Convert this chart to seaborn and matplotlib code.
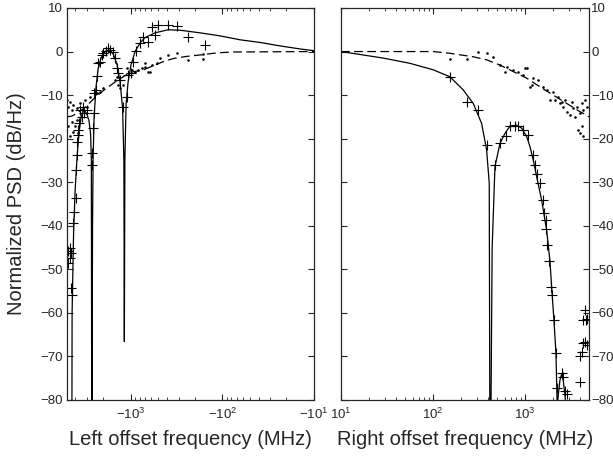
import numpy as np
import pandas as pd
import matplotlib
matplotlib.use('Agg')
import matplotlib.pyplot as plt
from matplotlib.ticker import FuncFormatter, NullFormatter, LogLocator
import seaborn as sns

# left side: offset frequency magnitude (MHz), plotted as negative offsets
left_solid_f = [4390, 4355, 4198, 4039, 3838, 3655, 3475, 3304, 3141, 2985, 2843, 2735, 2685, 2655,
                2606, 2570, 2506, 2384, 2266, 2104, 1901, 1722, 1556, 1406, 1306, 1225, 1186, 1172,
                1157, 1122, 1067, 990, 895, 789, 697, 542, 391, 289, 175, 106, 64, 39, 23.5, 14.2, 10]
left_solid_db = [-100, -60, -42, -32, -24, -18.5, -15, -13.6, -13.7, -14.5, -16, -19, -25, -100,
                 -40, -25, -15, -8, -4, -1.5, 0, 0.4, -0.5, -3, -7, -13, -25, -66.6,
                 -25, -12, -7, -3, 0, 2, 3.2, 4.3, 5, 4.9, 4.3, 3.6, 2.7, 2.1, 1.3, 0.6, 0.2]
left_dash_f = [4943, 4355, 3750, 3141, 2570, 2000, 1479, 1016, 727, 542, 440, 342, 244, 161, 115, 76, 10]
left_dash_db = [-15, -14.8, -14, -12.8, -11, -9, -7, -4.8, -4.2, -3.1, -2.3, -1.6, -1.1, -0.7, -0.3, -0.1, 0]
left_plus_f = [589, 499, 394, 314, 235, 155, 727, 641, 542, 789, 879, 935, 990, 1059, 1202, 1104,
               1361, 1306, 1419, 1479, 1545, 1679, 1750, 1854, 1986, 2065, 2158, 2249, 2307, 2404,
               2506, 2490, 2560, 2636, 2636, 3013, 3199, 3412, 3565, 3327, 3622, 3776, 3718, 3872,
               3811, 3908, 3939, 4140, 4217, 4779, 4467, 4581, 4581, 4779, 4390, 4467]
left_plus_db = [5.6, 6.1, 6.0, 5.8, 3.4, 1.5, 3.3, 2.3, 3.8, 1.9, 0.2, -2.3, -4.9, -5.4, -12.8, -10.4,
                -5, -6.5, -3.8, -1.5, 0, 0.4, 0.75, 0.2, -0.4, -0.8, -2.3, -2.7, -5.6, -8.8,
                -9.6, -14.2, -17.5, -23.4, -26, -13.4, -14.2, -15, -13.4, -12.7, -16.5, -18, -19.2, -20.7,
                -23.7, -27.2, -33.7, -36.8, -39.3, -45.9, -46.3, -45.2, -47.5, -48.6, -55.9, -54.3]
left_dot_f = [4943, 4581, 4779, 4217, 4390, 3872, 3565, 3141, 3013, 2773, 4581, 4217, 4039, 4390,
              3718, 3872, 4779, 2344, 2158, 1986, 1479, 1419, 1361, 1306, 1202, 1104, 973, 895,
              824, 757, 697, 641, 589, 519, 478, 388, 314, 235, 161, 161, 697, 614]
left_dot_db = [-11.1, -11.5, -12.7, -12.3, -13.4, -13, -11.9, -11.1, -12.7, -10.4, -19.5, -18.4, -17.2, -16.1,
               -18.8, -15.7, -17, -9.6, -9.2, -8.4, -6.5, -5.8, -7.7, -8.4, -7.7, -3.8, -4.2, -4.6,
               -4.2, -3.8, -3.5, -4.6, -3.1, -2.7, -1.5, -0.8, -0.25, -1.9, -1.8, -0.6, -2.7, -4.6]

# right side: positive offset frequency (MHz)
right_solid_f = [10, 28.8, 56.2, 101, 153, 213, 274, 338, 383, 409, 417, 421, 440, 472, 535, 606, 687,
                 812, 921, 1043, 1133, 1231, 1340, 1518, 1649, 1722, 1791, 1871, 1950, 2065, 2173,
                 2213, 2240, 2300, 2400, 2506, 2607, 2723, 2838]
right_solid_db = [0, -1.5, -2.7, -4.2, -5.8, -8.8, -11.9, -16.5, -22.6, -30.2, -100, -100, -45, -26.4, -21.1,
                  -18.8, -17.1, -16.9, -17.6, -19.5, -21.8, -24.9, -28.7, -34.1, -38.7, -41, -44.4, -48.2,
                  -54, -61.6, -69.3, -76.2, -82, -79, -75.5, -74, -75.5, -79, -83]
right_dash_f = [10, 101, 153, 274, 383, 535, 746, 1043, 1456, 2031, 2838, 3963, 4688, 4966]
right_dash_db = [0, 0, -0.4, -1.2, -1.9, -3.1, -4.6, -6.1, -8.1, -10, -11.9, -13.8, -14.6, -15]
right_plus_f = [153, 232, 311, 383, 472, 535, 617, 687, 778, 846, 959, 1086, 1231, 1284, 1360, 1456,
                1556, 1610, 1691, 1691, 1746, 1837, 1903, 1982, 2065, 2158, 2244, 2506, 2607, 2723,
                2838, 3963, 3963, 4132, 4236, 4487, 4688, 4487, 4603, 4753, 4305]
right_plus_db = [-5.8, -11.5, -13.4, -21.5, -26, -21.1, -19.4, -17.1, -17.1, -17.1, -18, -19.2, -23.7, -26,
                 -28, -30.2, -34.1, -37.1, -38.7, -40.7, -44.4, -48.2, -54, -55.9, -61.6, -69.1, -77.3,
                 -73.9, -74.8, -77.9, -78.6, -75.8, -70, -68.9, -66.8, -66.6, -67.4, -59.3, -61.6, -61.5, -61.6]
right_dot_f = [153, 232, 311, 383, 452, 535, 606, 746, 846, 959, 1043, 1133, 1231, 1395, 1581, 1722,
               2031, 2118, 2301, 2399, 2607, 2723, 2838, 3083, 3350, 3493, 3646, 3963, 4132, 4305,
               4487, 4688, 3795, 3963, 4305, 4132, 632, 1000, 1182, 1871, 2506, 3219]
right_dot_db = [-1.8, -1.8, 0, -0.4, -1.2, -3.1, -4.6, -4.2, -4.6, -5.4, -3.8, -8.1, -6.1, -6.5, -8.1, -8.8,
                -9.2, -11.1, -10.4, -11.9, -12.7, -11.1, -13.8, -14.6, -13, -15, -12.7, -14.2, -11.9, -13.4,
                -11.1, -12.7, -18, -18.8, -19.5, -17.2, -3.5, -3.8, -7.7, -11.1, -11.5, -11.5]

yticks = list(range(-80, 11, 10))

sns.set_style('ticks', {'xtick.direction': 'in', 'ytick.direction': 'in'})
plt.rcParams['font.family'] = ['Liberation Sans', 'DejaVu Sans']
plt.rcParams['mathtext.default'] = 'regular'
plt.rcParams['axes.linewidth'] = 0.9

fig = plt.figure(figsize=(6.13, 4.59), dpi=100)
axl = fig.add_axes([67 / 613, 59 / 459, 247 / 613, 392 / 459])
axr = fig.add_axes([341 / 613, 59 / 459, 248 / 613, 392 / 459])


def draw(ax, sf, sd, df, dd, pf, pd_, of, od):
    ax.set_xscale('log')
    sns.lineplot(x=sf, y=sd, ax=ax, color='k', lw=0.9, estimator=None, sort=False)
    sns.lineplot(x=df, y=dd, ax=ax, color='k', lw=0.9, ls=(0, (7, 3.5)), estimator=None, sort=False)
    sns.scatterplot(x=pf, y=pd_, ax=ax, marker='+', color='k', s=42, linewidth=0.8)
    sns.scatterplot(x=of, y=od, ax=ax, marker='o', color='k', s=3.5, linewidth=0)
    ax.set_ylim(-80, 10)
    ax.set_yticks(yticks)
    ax.xaxis.set_major_locator(LogLocator(base=10))
    ax.xaxis.set_minor_locator(LogLocator(base=10, subs=np.arange(2, 10)))
    ax.xaxis.set_minor_formatter(NullFormatter())
    ax.tick_params(which='both', top=True, right=True, labelsize=9.5)
    ax.tick_params(which='major', length=4, width=0.8)
    ax.tick_params(which='minor', length=2, width=0.6)
    ax.tick_params(axis='x', pad=5)


draw(axl, left_solid_f, left_solid_db, left_dash_f, left_dash_db,
     left_plus_f, left_plus_db, left_dot_f, left_dot_db)
axl.set_xlim(4950, 10)
axl.xaxis.set_major_formatter(FuncFormatter(lambda v, p: r'$-10^{%d}$' % round(np.log10(v))))
axl.tick_params(axis='y', pad=3)
axl.set_xlabel('Left offset frequency (MHz)', fontsize=14.5, labelpad=6)
axl.set_ylabel('Normalized PSD (dB/Hz)', fontsize=14.5, labelpad=10)

draw(axr, right_solid_f, right_solid_db, right_dash_f, right_dash_db,
     right_plus_f, right_plus_db, right_dot_f, right_dot_db)
axr.set_xlim(10, 4970)
axr.xaxis.set_major_formatter(FuncFormatter(lambda v, p: r'$10^{%d}$' % round(np.log10(v))))
axr.tick_params(axis='y', labelleft=False, labelright=True, pad=1.5)
axr.set_xlabel('Right offset frequency (MHz)', fontsize=14.5, labelpad=6)
axr.set_ylabel('')

fig.savefig('out.png', dpi=100)
